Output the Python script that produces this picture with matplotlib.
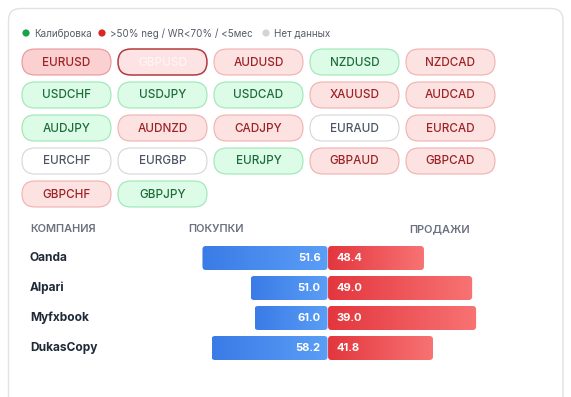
import numpy as np
import matplotlib
matplotlib.use("Agg")
import matplotlib.pyplot as plt
from matplotlib.patches import FancyBboxPatch, Circle
from matplotlib.colors import LinearSegmentedColormap

# ---------------- data ----------------
legend_labels = ["Калибровка", ">50% neg / WR<70% / <5мес", "Нет данных"]
legend_status = ["green", "red", "none"]

pairs = ["EURUSD", "GBPUSD", "AUDUSD", "NZDUSD", "NZDCAD",
         "USDCHF", "USDJPY", "USDCAD", "XAUUSD", "AUDCAD",
         "AUDJPY", "AUDNZD", "CADJPY", "EURAUD", "EURCAD",
         "EURCHF", "EURGBP", "EURJPY", "GBPAUD", "GBPCAD",
         "GBPCHF", "GBPJPY"]
pair_status = ["red_hover", "selected", "red", "green", "red",
               "green", "green", "green", "red", "red",
               "green", "red", "red", "none", "red",
               "none", "none", "green", "red", "red",
               "red", "green"]

companies = ["Oanda", "Alpari", "Myfxbook", "DukasCopy"]
buy_pct = [51.6, 51.0, 61.0, 58.2]
sell_pct = [48.4, 49.0, 39.0, 41.8]
# drawn bar lengths (share of the full bar, as rendered)
buy_bar = [56.6, 34.8, 33.0, 52.5]
sell_bar = [43.4, 65.2, 67.0, 47.5]

headers = ["КОМПАНИЯ", "ПОКУПКИ", "ПРОДАЖИ"]

# ---------------- style ----------------
FONT = ["Inter", "DejaVu Sans"]
plt.rcParams["font.family"] = FONT

styles = {
    "red":       dict(fc="#fde2e2", ec="#f0b0b0", tc="#9b2226", lw=0.8),
    "red_hover": dict(fc="#fbd0d1", ec="#e99598", tc="#9b2226", lw=0.8),
    "selected":  dict(fc="#fde3e3", ec="#b33a3e", tc="#fff5f5", lw=1.1),
    "green":     dict(fc="#dcfce7", ec="#9de6b6", tc="#1e6b3a", lw=0.8),
    "none":      dict(fc="#ffffff", ec="#d6d6da", tc="#4b5563", lw=0.8),
}
dot_colors = {"green": "#16a34a", "red": "#dc2626", "none": "#d4d4d8"}

W, H = 571, 397
fig = plt.figure(figsize=(W / 100, H / 100), dpi=100)
fig.patch.set_facecolor("white")
ax0 = fig.add_axes([0, 0, 1, 1])
ax0.set_xlim(0, W)
ax0.set_ylim(H, 0)
ax0.axis("off")

# card
card = FancyBboxPatch((8.5, 8.5), 554.5, 430, boxstyle="round,pad=0,rounding_size=12",
                      fc="white", ec="#e2e2e2", lw=1.0, zorder=0)
ax0.add_patch(card)

# legend
lx = [26, 102, 266]
for x, lab, st in zip(lx, legend_labels, legend_status):
    ax0.add_patch(Circle((x, 33), 3.6, fc=dot_colors[st], ec="none", zorder=2))
    ax0.text(x + 8.5, 33.5, lab, fontsize=7.1, color="#555b66", va="center", ha="left")

# pills
pw, ph = 89, 26
for i, (name, st) in enumerate(zip(pairs, pair_status)):
    r, c = divmod(i, 5)
    x0 = 22 + c * 96.0
    y0 = 49 + r * 33.0
    s = styles[st]
    p = FancyBboxPatch((x0, y0), pw, ph, boxstyle=f"round,pad=0,rounding_size={ph/2}",
                       fc=s["fc"], ec=s["ec"], lw=s["lw"], zorder=2)
    ax0.add_patch(p)
    ax0.text(x0 + pw / 2, y0 + ph / 2 + 0.5, name, fontsize=8.4, color=s["tc"],
             ha="center", va="center", fontweight="medium", zorder=3)

# headers
hcol = "#6b7280"
ax0.text(30, 229, headers[0], fontsize=7.9, color=hcol, fontweight="semibold", ha="left", va="center")
ax0.text(188, 229, headers[1], fontsize=7.9, color=hcol, fontweight="semibold", ha="left", va="center")
ax0.text(470, 229, headers[2], fontsize=7.9, color=hcol, fontweight="semibold", ha="right", va="center")

# bar axes: split at 0, 1 unit = 2.21 px
split_px = 327.8
unit = 2.21
left_px = split_px - 100 * unit
ax1 = fig.add_axes([left_px / W, 1 - 363 / H, 200 * unit / W, 120 / H])
ax1.set_xlim(-100, 100)
ax1.set_ylim(len(companies) - 0.5, -0.5)
ax1.axis("off")
ax1.patch.set_alpha(0)

ypos = np.arange(len(companies))
gap = 0.5 / unit  # ~1px gap between halves
bars_b = ax1.barh(ypos, [-v for v in buy_bar], left=-gap / 2, height=0.8, color="none")
bars_s = ax1.barh(ypos, sell_bar, left=gap / 2, height=0.8, color="none")

cmap_b = LinearSegmentedColormap.from_list("b", ["#3a7be6", "#5b9ef6"])
cmap_s = LinearSegmentedColormap.from_list("s", ["#e3363e", "#f87373"])
grad = np.linspace(0, 1, 256).reshape(1, -1)

to_px = ax1.transData + ax0.transData.inverted()

def draw_grad(rect, cmap):
    x, y = rect.get_xy()
    w, h = rect.get_width(), rect.get_height()
    (xa, ya), (xb, yb) = to_px.transform([(x, y), (x + w, y + h)])
    x1, x2 = sorted([xa, xb])
    y1, y2 = sorted([ya, yb])
    clip = FancyBboxPatch((x1, y1), x2 - x1, y2 - y1, boxstyle="round,pad=0,rounding_size=3.5",
                          fc="none", ec="none", transform=ax0.transData)
    ax0.add_patch(clip)
    im = ax0.imshow(grad, cmap=cmap, extent=(x1, x2, y2, y1), aspect="auto",
                    interpolation="bilinear", zorder=3)
    im.set_clip_path(clip)

for rect in bars_b:
    draw_grad(rect, cmap_b)
for rect in bars_s:
    draw_grad(rect, cmap_s)
ax0.set_xlim(0, W)
ax0.set_ylim(H, 0)

for i, (name, b, s) in enumerate(zip(companies, buy_pct, sell_pct)):
    ax1.text(-gap / 2, i, f"{b:.1f}", fontsize=8, color="white", fontweight="bold",
             ha="right", va="center", zorder=5,
             transform=ax1.transData + matplotlib.transforms.ScaledTranslation(-7 / 100, 0, fig.dpi_scale_trans))
    ax1.text(gap / 2, i, f"{s:.1f}", fontsize=8, color="white", fontweight="bold",
             ha="left", va="center", zorder=5,
             transform=ax1.transData + matplotlib.transforms.ScaledTranslation(8 / 100, 0, fig.dpi_scale_trans))
    # company name, aligned with bar row
    yy = to_px.transform([(0, i)])[0][1]
    ax0.text(30, yy, name, fontsize=8.6, color="#1f2937", fontweight="bold", ha="left", va="center")

fig.savefig("out.png", dpi=100, facecolor="white")
